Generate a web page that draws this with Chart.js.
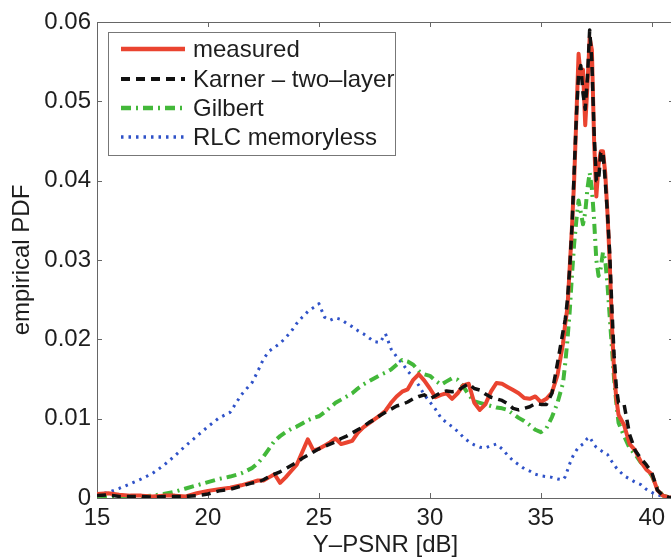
<!DOCTYPE html>
<html>
<head>
<meta charset="utf-8">
<title>empirical PDF of Y-PSNR</title>
<script src="https://cdn.jsdelivr.net/npm/chart.js@4.4.1/dist/chart.umd.min.js"></script>
<style>
  html, body { margin: 0; padding: 0; background: #fff; overflow: hidden; }
  #chart { display: block; }
</style>
</head>
<body>
<canvas id="chart" width="690" height="557"></canvas>
<script>
/* ---------- data: PDF of Y-PSNR, sampled per bin ---------- */
const psnr = [
  15, 15.5, 16, 16.5, 17, 17.5, 18, 18.5, 19, 19.5, 20, 20.5, 21, 21.5, 22,
  22.25, 22.5, 22.75, 23, 23.25, 23.5, 23.75, 24, 24.25, 24.5, 24.75, 25, 25.25, 25.5, 25.75, 26, 26.25, 26.5, 26.75, 27,
  27.25, 27.5, 27.75, 28, 28.25, 28.5, 28.75, 29, 29.25, 29.5, 29.75, 30, 30.25, 30.5, 30.75, 31, 31.25, 31.5, 31.75, 32,
  32.25, 32.5, 32.75, 33, 33.25, 33.5, 33.75, 34, 34.25, 34.5, 34.75, 35, 35.25, 35.5, 35.75, 36,
  36.1, 36.2, 36.3, 36.4, 36.5, 36.6, 36.7, 36.8, 36.9, 37, 37.1, 37.2, 37.3, 37.4, 37.5, 37.6, 37.7, 37.8, 37.9, 38, 38.1, 38.2, 38.3, 38.4,
  38.5, 38.75, 39, 39.25, 39.5, 39.75, 40, 40.25, 40.5, 40.75, 41
];

const measured = [
  0.0005, 0.0006, 0.0004, 0.0003, 0.0003, 0.0002, 0.0003, 0.0003, 0.0002, 0.0006, 0.0009, 0.0011, 0.0013, 0.0016, 0.0020,
  0.0022, 0.0022, 0.0026, 0.0030, 0.0019, 0.0026, 0.0034, 0.0042, 0.0058, 0.0074, 0.0060, 0.0062, 0.0066, 0.0070, 0.0075, 0.0068, 0.0070, 0.0072, 0.0082, 0.0089,
  0.0094, 0.0099, 0.0104, 0.0110, 0.0120, 0.0128, 0.0134, 0.0137, 0.0149, 0.0156, 0.0148, 0.0138, 0.0127, 0.0130, 0.0132, 0.0125, 0.0132, 0.0142, 0.0144, 0.0120,
  0.0111, 0.0118, 0.0134, 0.0145, 0.0144, 0.0140, 0.0136, 0.0132, 0.0126, 0.0125, 0.0128, 0.0121, 0.0125, 0.0133, 0.0155, 0.0195,
  0.022, 0.024, 0.029, 0.034, 0.040, 0.048, 0.056, 0.053, 0.054, 0.047, 0.052, 0.058, 0.0565, 0.045, 0.038, 0.042, 0.0437, 0.0437, 0.041, 0.036, 0.030, 0.022, 0.016, 0.0125,
  0.0105, 0.0092, 0.0068, 0.0060, 0.0046, 0.0036, 0.0030, 0.0010, 0.0003, 0.0001, 0
];

const karner = [
  0.0003, 0.0004, 0.0002, 0.0002, 0.0002, 0.0001, 0.0002, 0.0002, 0.0002, 0.0003, 0.0005, 0.0009, 0.0011, 0.0015, 0.0019,
  0.0020, 0.0023, 0.0027, 0.0030, 0.0033, 0.0037, 0.0041, 0.0045, 0.0050, 0.0054, 0.0058, 0.0062, 0.0065, 0.0068, 0.0071, 0.0075, 0.0078, 0.0082, 0.0086, 0.0090,
  0.0095, 0.0099, 0.0104, 0.0108, 0.0112, 0.0116, 0.0118, 0.0121, 0.0125, 0.0128, 0.0130, 0.0125, 0.0129, 0.0133, 0.0135, 0.0134, 0.0135, 0.0140, 0.0144, 0.0138,
  0.0136, 0.0131, 0.0127, 0.0125, 0.0123, 0.0119, 0.0113, 0.0111, 0.0113, 0.0115, 0.0119, 0.0118, 0.0118, 0.0132, 0.0170, 0.0210,
  0.0225, 0.025, 0.029, 0.034, 0.041, 0.048, 0.0535, 0.0545, 0.051, 0.049, 0.053, 0.059, 0.055, 0.046, 0.040, 0.040, 0.0435, 0.0437, 0.040, 0.036, 0.031, 0.024, 0.018, 0.014,
  0.0120, 0.0118, 0.0080, 0.0060, 0.0050, 0.0042, 0.0032, 0.0010, 0.0003, 0.0001, 0
];

const gilbert = [
  0.0003, 0.0002, 0.0002, 0.0002, 0.0002, 0.0003, 0.0005, 0.0008, 0.0012, 0.0016, 0.0020, 0.0024, 0.0027, 0.0031, 0.0038,
  0.0044, 0.0052, 0.0062, 0.0072, 0.0078, 0.0083, 0.0087, 0.0090, 0.0094, 0.0098, 0.0101, 0.0103, 0.0108, 0.0114, 0.0120, 0.0124, 0.0128, 0.0132, 0.0138, 0.0143,
  0.0147, 0.0151, 0.0155, 0.0158, 0.0162, 0.0168, 0.0174, 0.0172, 0.0168, 0.0160, 0.0156, 0.0154, 0.0148, 0.0143, 0.0147, 0.0151, 0.0149, 0.0141, 0.0130, 0.0122,
  0.0120, 0.0118, 0.0116, 0.0114, 0.0113, 0.0111, 0.0106, 0.0101, 0.0097, 0.0092, 0.0086, 0.0083, 0.0088, 0.0102, 0.0120, 0.0145,
  0.017, 0.020, 0.0235, 0.028, 0.032, 0.035, 0.0375, 0.036, 0.0345, 0.036, 0.039, 0.041, 0.039, 0.035, 0.030, 0.028, 0.029, 0.031, 0.030, 0.027, 0.023, 0.019, 0.015, 0.012,
  0.0095, 0.0078, 0.0063, 0.0055, 0.0045, 0.0038, 0.0028, 0.0012, 0.0003, 0.0001, 0
];

const rlc = [
  0.0004, 0.0007, 0.0012, 0.0018, 0.0024, 0.0031, 0.0041, 0.0053, 0.0066, 0.0078, 0.0090, 0.0101, 0.0108, 0.0130, 0.0146,
  0.0160, 0.0175, 0.0185, 0.0190, 0.0195, 0.0202, 0.0210, 0.0220, 0.0228, 0.0235, 0.0240, 0.0245, 0.0228, 0.0224, 0.0227, 0.0225, 0.0220, 0.0216, 0.0211, 0.0207,
  0.0202, 0.0197, 0.0196, 0.0207, 0.0188, 0.0178, 0.0170, 0.0160, 0.0152, 0.0142, 0.0130, 0.0121, 0.0112, 0.0101, 0.0095, 0.0090, 0.0084, 0.0077, 0.0071, 0.0067,
  0.0064, 0.0063, 0.0066, 0.0068, 0.0062, 0.0054, 0.0047, 0.0042, 0.0037, 0.0034, 0.0030, 0.0028, 0.0027, 0.0026, 0.0024, 0.0023,
  0.0027, 0.0035, 0.0043, 0.0050, 0.0056, 0.0060, 0.0064, 0.0066, 0.0068, 0.0072, 0.0075, 0.0077, 0.0072, 0.0067, 0.0064, 0.0062, 0.0060, 0.0058, 0.0057, 0.0055, 0.0050, 0.0046, 0.0042, 0.0038,
  0.0035, 0.0028, 0.0024, 0.0020, 0.0017, 0.0011, 0.0007, 0.0004, 0.0002, 0.0001, 0
];

const xTicks = [15, 20, 25, 30, 35, 40];
const yTicks = [0, 0.01, 0.02, 0.03, 0.04, 0.05, 0.06];

/* ---------- look ---------- */
const FONT = '"Liberation Sans", Arial, Helvetica, sans-serif';
const INK = '#1e1e1e';
const AXIS = '#666';
const TICK_LEN = 5;

const pts = ys => ys.map((y, i) => ({ x: psnr[i], y }));

const datasets = [
  { label: 'measured', data: pts(measured), borderColor: '#ea4430', borderWidth: 4, borderDash: [], order: 2 },
  { label: 'Karner – two–layer', data: pts(karner), borderColor: '#111111', borderWidth: 3.5, borderDash: [9, 6], order: 1 },
  { label: 'Gilbert', data: pts(gilbert), borderColor: '#43b83a', borderWidth: 4, borderDash: [10, 5, 2, 5], order: 3 },
  { label: 'RLC memoryless', data: pts(rlc), borderColor: '#2f52c8', borderWidth: 3, borderDash: [2.5, 5], order: 4 }
];

/* box around the axes with inward ticks on all four sides */
const axesBox = {
  id: 'axesBox',
  beforeDatasetsDraw(chart) {
    const { ctx, chartArea: a, scales: { x, y } } = chart;
    ctx.save();
    ctx.strokeStyle = AXIS;
    ctx.lineWidth = 1;
    ctx.strokeRect(Math.round(a.left) + 0.5, Math.round(a.top) + 0.5,
      Math.round(a.right - a.left), Math.round(a.bottom - a.top));
    ctx.beginPath();
    for (const t of x.ticks) {
      const px = Math.round(x.getPixelForValue(t.value)) + 0.5;
      ctx.moveTo(px, a.bottom); ctx.lineTo(px, a.bottom - TICK_LEN);
      ctx.moveTo(px, a.top); ctx.lineTo(px, a.top + TICK_LEN);
    }
    for (const t of y.ticks) {
      const py = Math.round(y.getPixelForValue(t.value)) + 0.5;
      ctx.moveTo(a.left, py); ctx.lineTo(a.left + TICK_LEN, py);
      ctx.moveTo(a.right, py); ctx.lineTo(a.right - TICK_LEN, py);
    }
    ctx.stroke();
    ctx.restore();
  }
};

/* legend box in the upper left corner of the plot */
const boxLegend = {
  id: 'boxLegend',
  afterDatasetsDraw(chart) {
    const { ctx } = chart;
    const left = 108, top = 32, right = 395, bottom = 155;
    const rows = [49, 79, 108, 137];
    ctx.save();
    ctx.fillStyle = '#fff';
    ctx.fillRect(left, top, right - left, bottom - top);
    ctx.strokeStyle = '#777';
    ctx.lineWidth = 1;
    ctx.strokeRect(left + 0.5, top + 0.5, right - left, bottom - top);
    chart.data.datasets.forEach((ds, i) => {
      const yy = rows[i];
      ctx.strokeStyle = ds.borderColor;
      ctx.lineWidth = ds.borderWidth + 0.5;
      ctx.setLineDash(ds.borderDash);
      ctx.beginPath();
      ctx.moveTo(121, yy);
      ctx.lineTo(185, yy);
      ctx.stroke();
      ctx.setLineDash([]);
      ctx.fillStyle = INK;
      ctx.font = '24px ' + FONT;
      ctx.textBaseline = 'middle';
      ctx.textAlign = 'left';
      ctx.fillText(ds.label, 193, yy + 1);
    });
    ctx.restore();
  }
};

new Chart(document.getElementById('chart'), {
  type: 'line',
  data: { datasets },
  plugins: [axesBox, boxLegend],
  options: {
    responsive: false,
    animation: false,
    devicePixelRatio: 1,
    layout: { padding: { top: 22, right: 16, left: 0, bottom: 0 } },
    plugins: { legend: { display: false }, tooltip: { enabled: false } },
    elements: {
      point: { radius: 0 },
      line: { tension: 0, fill: false, borderCapStyle: 'butt', borderJoinStyle: 'round' }
    },
    scales: {
      x: {
        type: 'linear', min: 15, max: 41,
        afterBuildTicks: s => { s.ticks = xTicks.map(v => ({ value: v })); },
        afterFit: s => { s.height = 59; },
        grid: { display: false, drawTicks: false },
        border: { display: false },
        ticks: { color: INK, font: { size: 24, family: FONT }, padding: 6, maxRotation: 0, autoSkip: false },
        title: { display: true, text: 'Y–PSNR [dB]', color: INK, font: { size: 24, family: FONT, lineHeight: 1 }, padding: 0 }
      },
      y: {
        type: 'linear', min: 0, max: 0.06,
        afterBuildTicks: s => { s.ticks = yTicks.map(v => ({ value: v })); },
        afterFit: s => { s.width = 97; },
        grid: { display: false, drawTicks: false },
        border: { display: false },
        ticks: {
          color: INK, font: { size: 24, family: FONT }, padding: 6, autoSkip: false,
          callback: v => (v === 0 ? '0' : v.toFixed(2))
        },
        title: { display: true, text: 'empirical PDF', color: INK, font: { size: 24, family: FONT, lineHeight: 1 }, padding: { top: 10 } }
      }
    }
  }
});
</script>
</body>
</html>
